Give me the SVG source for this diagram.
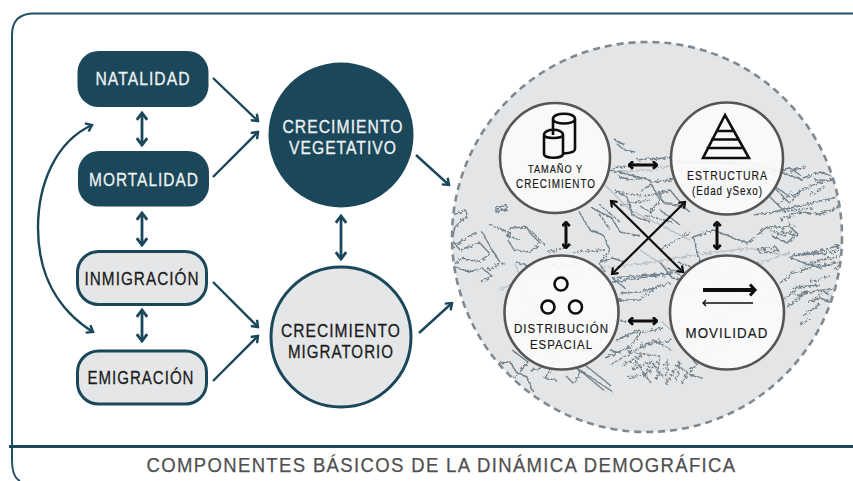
<svg xmlns="http://www.w3.org/2000/svg" width="853" height="481" viewBox="0 0 853 481">
<style>
text{font-family:"Liberation Sans",Arial,sans-serif;text-anchor:middle;letter-spacing:1.200px}
.t{font-size:18px;stroke-width:.3px}
.w{fill:#eef1f2;stroke:#eef1f2}.k{fill:#1c1c1c;stroke:#1c1c1c}
.s{fill:#1a1a1a;stroke:#1a1a1a;stroke-width:.2px}
.dk{fill:#1a4759}.lt{fill:#e5e6e8;stroke:#1a4759;stroke-width:3}
.c{fill:none;stroke:#1a4759;stroke-width:2.400}
.c3{fill:none;stroke:#1a4759;stroke-width:2.800}
.b{fill:none;stroke:#0d0d0d;stroke-width:2.200}
.b3{fill:none;stroke:#0d0d0d;stroke-width:3}
.sm{fill:#fbfbfb;fill-opacity:.93;stroke:#555;stroke-width:2.600}
.m{fill:none;stroke:#72828c;stroke-width:1.400;stroke-linejoin:round}
.d{fill:none;stroke:#72828c;stroke-width:1.600;stroke-dasharray:2.500 1.200}
.m2{fill:none;stroke:#bcc1c5;stroke-width:1.400}
.i{fill:none;stroke:#0d0d0d;stroke-width:2.600}
</style>
<defs>
<marker id="a" viewBox="0 0 10 10" refX="8.500" refY="5" markerWidth="4.400" markerHeight="4.400" orient="auto-start-reverse" markerUnits="strokeWidth"><path d="M3 .8L8.500 5L3 9.200" fill="none" stroke="context-stroke" stroke-width="2.300"/></marker>
<marker id="h" viewBox="0 0 10 10" refX="8.500" refY="5" markerWidth="3" markerHeight="3" orient="auto-start-reverse" markerUnits="strokeWidth"><path d="M4 .8L8.500 5L4 9.200" fill="none" stroke="context-stroke" stroke-width="3"/></marker>
<clipPath id="cp"><circle cx="647" cy="237" r="194"/></clipPath>
<filter id="r" x="-5%" y="-5%" width="110%" height="110%"><feTurbulence type="fractalNoise" baseFrequency=".3" numOctaves="2" seed="4"/><feDisplacementMap in="SourceGraphic" scale="5"/></filter>
</defs>
<path d="M853 13.500H34Q12 13.500 12 35V460Q12 477 20 481" fill="none" stroke="#1f5064" stroke-width="2"/>
<path d="M9 446.500H853" fill="none" stroke="#1a4759" stroke-width="3"/>
<text x="441.500" y="472" font-size="20.500" fill="#505050" stroke="#505050" stroke-width=".25" textLength="590" lengthAdjust="spacingAndGlyphs" style="letter-spacing:1.500px">COMPONENTES BÁSICOS DE LA DINÁMICA DEMOGRÁFICA</text>

<g id="mapa">
<circle cx="647" cy="237" r="195" fill="#e4e5e7" stroke="#80898f" stroke-width="2.600" stroke-dasharray="7 5"/>
<g clip-path="url(#cp)"><g filter="url(#r)">
<path class="m2" d="M500 290L530 274L560 276L600 268L640 264L700 254L750 248L780 254M515 262L535 322L555 362M600 180L630 210L690 240M640 250L670 270L730 274L790 252M540 188L600 182M700 300L760 260M660 320L700 356L740 336M610 172L650 170L700 160L760 168M680 290L720 294L770 280M700 340L730 310L770 296M520 320L560 300"/>
<path class="m" d="M453 215L465 210L468 215L462 220L455 227L452 240L460 250L473 245L480 243L490 254L478 262L462 258L452 266L470 272L482 268L492 276L480 282M448 250L466 238L476 232M482 232L492 250L500 262"/>
<path class="m" d="M496 208L507 205L507 209L496 212ZM510 228L527 227L530 233L540 243L530 252L514 250L508 240ZM516 262L534 268L545 262L560 268L575 262L590 270"/>
<path class="m" d="M578 210L590 230L603 235L610 250L600 262L612 258L625 262M592 208L612 218L620 232L640 236M615 140L625 145L622 148L616 143M623 150L635 152M637 160L650 158M610 170L650 180M618 176L630 180L645 178M640 190L652 185L660 200L650 212L640 206M615 190L628 198L632 215L650 222M660 210L680 225"/>
<path class="m" d="M650 160L670 157M650 182L670 180L678 176M658 192L670 190L680 202M658 192L663 202L683 207L690 212M675 162L750 163L775 170L803 180M770 172L790 168L800 175M660 250L690 232"/>
<path class="m" d="M773 185L790 197L817 183L833 180M770 197L783 210L803 205L837 197M754 215L773 212L803 205M693 237L713 230L747 243L767 227M693 237L700 262L720 256M767 227L790 227L797 233L787 243L772 236M758 249L776 247L778 251L760 253ZM793 255L817 252L840 245M790 172L806 166M803 178L820 172L832 176L842 172M780 220L800 212L820 214L842 206"/>
<path class="d" d="M775 188L790 204L800 190M778 205L792 192M780 212L812 208M770 230L785 236L795 226M775 238L790 222M782 232L798 236M800 268L822 260L842 256M815 180L842 180M810 196L825 186"/>
<path class="m" d="M780 283L793 273L813 267L833 263M787 307L803 293L823 290L833 288M785 300L797 287L820 285M790 256L826 253M790 258L820 268L838 262M808 302L820 298L835 304M803 316L820 304M800 325L812 318"/>
<path class="d" d="M790 293L802 296L796 302M820 290L832 296L825 302M810 262L830 258M810 282L830 276M835 270L842 262M822 254L840 250M815 298L832 290"/>
<path class="m" d="M492 355L497 363L510 362L517 373L527 377L533 392M500 366L512 378L522 372M512 350L528 362L520 372M530 370L542 368M555 362L545 378L556 380M572 362L580 372L574 384L566 376"/>
<path class="m" d="M580 370L613 392M572 364L606 392M585 365L610 385M610 350L622 354"/>
<path class="m" d="M605 358L630 347L640 333L663 328M610 365L632 352L646 345L672 340M616 340L640 330M612 300L640 300L655 288M612 278L673 273M612 282L668 274M620 293L640 292L670 283"/>
<path class="d" d="M622 365L640 356L632 370L650 362L644 378L660 358L656 380L668 360L666 384L680 362L676 382M628 378L650 372M675 365L688 372L682 384M640 345L660 340M628 352L660 356M652 340L672 350M613 320L632 322M615 300L622 300M636 362L650 382M650 360L664 378"/>
<path class="m" d="M690 355L697 365L688 372M690 375L702 378M612 278L625 288M600 264L605 272M660 262L672 278L684 280"/>
<path class="d" d="M612 168L640 164M615 192L642 196M644 196L668 192M620 205L650 200M600 205L620 222M645 215L672 222M490 225L508 232M505 235L520 240M488 270L505 262M530 230L545 245M548 252L572 246M573 252L605 250M600 215L610 230M678 262L700 270M668 268L682 276"/>
</g></g>
</g>

<g id="conectores">
<path class="c" marker-end="url(#a)" d="M213 78L258 121"/>
<path class="c" marker-end="url(#a)" d="M213 177L258 132"/>
<path class="c3" marker-start="url(#a)" marker-end="url(#a)" d="M142 113V145"/>
<path class="c3" marker-start="url(#a)" marker-end="url(#a)" d="M142 213V245"/>
<path class="c3" marker-start="url(#a)" marker-end="url(#a)" d="M142 310V341"/>
<path class="c" marker-end="url(#a)" d="M213 282L258 327"/>
<path class="c" marker-end="url(#a)" d="M213 381L258 336"/>
<path class="c" marker-start="url(#a)" marker-end="url(#a)" d="M92 125C55 142 38 185 38 228C38 275 58 310 93 332"/>
<path class="c3" marker-start="url(#a)" marker-end="url(#a)" d="M341 216V259"/>
<path class="c" marker-end="url(#a)" d="M416 155L449 185"/>
<path class="c" marker-end="url(#a)" d="M419 333L452 303"/>
<path class="b3" marker-start="url(#h)" marker-end="url(#h)" d="M629 165H657"/>
<path class="b3" marker-start="url(#h)" marker-end="url(#h)" d="M629 321H657"/>
<path class="b3" marker-start="url(#h)" marker-end="url(#h)" d="M566 222V248"/>
<path class="b3" marker-start="url(#h)" marker-end="url(#h)" d="M717 222V249"/>
<path class="b" marker-start="url(#a)" marker-end="url(#a)" d="M611 201L683 272"/>
<path class="b" marker-start="url(#a)" marker-end="url(#a)" d="M685 202L612 274"/>
</g>

<g id="natalidad"><rect class="dk" x="77.500" y="51" width="131" height="56" rx="21"/><text class="t w" x="143" y="85" textLength="95" lengthAdjust="spacingAndGlyphs">NATALIDAD</text></g>
<g id="mortalidad"><rect class="dk" x="78" y="151" width="131" height="55.500" rx="21"/><text class="t w" x="144" y="186" textLength="110" lengthAdjust="spacingAndGlyphs">MORTALIDAD</text></g>
<g id="inmigracion"><rect class="lt" x="77.500" y="251.500" width="129" height="53" rx="21"/><text class="t k" x="142" y="284.500" textLength="115" lengthAdjust="spacingAndGlyphs">INMIGRACIÓN</text></g>
<g id="emigracion"><rect class="lt" x="77.500" y="351" width="129" height="53" rx="21"/><text class="t k" x="141" y="383.500" textLength="107" lengthAdjust="spacingAndGlyphs">EMIGRACIÓN</text></g>
<g id="vegetativo"><circle class="dk" cx="341" cy="135" r="72.500"/><text class="t w" x="343" y="133" textLength="121" lengthAdjust="spacingAndGlyphs">CRECIMIENTO</text><text class="t w" x="343" y="154" textLength="108" lengthAdjust="spacingAndGlyphs">VEGETATIVO</text></g>
<g id="migratorio"><circle class="lt" cx="341" cy="337" r="70"/><text class="t k" x="341" y="337" textLength="120" lengthAdjust="spacingAndGlyphs">CRECIMIENTO</text><text class="t k" x="341" y="358" textLength="106" lengthAdjust="spacingAndGlyphs">MIGRATORIO</text></g>

<g id="tamano"><circle class="sm" cx="555" cy="158" r="55"/>
<path class="i" d="M553 135V119C553 112 575 112 575 119V149C575 152 571 153 564 153.500M553 119C553 125 575 125 575 119"/>
<path class="i" d="M544 135C544 128 563 128 563 135V154C563 159 544 159 544 154ZM544 135C544 139 563 139 563 135"/>
<text class="s" x="555.500" y="173" font-size="11.500" textLength="55" lengthAdjust="spacingAndGlyphs">TAMAÑO Y</text><text class="s" x="556" y="188" font-size="12" textLength="80" lengthAdjust="spacingAndGlyphs">CRECIMIENTO</text></g>
<g id="estructura"><circle class="sm" cx="727" cy="158.500" r="56"/>
<path class="i" stroke-width="3" d="M725 115L703 158H749ZM716 131H734M711 139.500H739M706.500 148H744"/>
<text class="s" x="727.500" y="180" font-size="13" textLength="81" lengthAdjust="spacingAndGlyphs">ESTRUCTURA</text><text class="s" x="727.500" y="195" font-size="12" textLength="71" lengthAdjust="spacingAndGlyphs">(Edad ySexo)</text></g>
<g id="distribucion"><circle class="sm" cx="561.500" cy="312.500" r="57"/>
<circle class="i" cx="561" cy="284" r="6.500"/><circle class="i" cx="548" cy="307" r="6.500"/><circle class="i" cx="575.500" cy="307" r="6.500"/>
<text class="s" x="561.500" y="333" font-size="13.500" textLength="95" lengthAdjust="spacingAndGlyphs">DISTRIBUCIÓN</text><text class="s" x="561.500" y="349" font-size="13.500" textLength="63" lengthAdjust="spacingAndGlyphs">ESPACIAL</text></g>
<g id="movilidad"><circle class="sm" cx="727" cy="312.500" r="57"/>
<path d="M703 290H754" fill="none" stroke="#0d0d0d" stroke-width="4"/>
<path d="M750 284.500L755 290L750 295.500" fill="none" stroke="#0d0d0d" stroke-width="3"/>
<path d="M703 303H753" fill="none" stroke="#0d0d0d" stroke-width="1.600"/><path d="M706 300L703 303L706 306" fill="none" stroke="#0d0d0d" stroke-width="1.400"/>
<text class="s" x="727" y="338" font-size="15" textLength="83" lengthAdjust="spacingAndGlyphs">MOVILIDAD</text></g>
</svg>
